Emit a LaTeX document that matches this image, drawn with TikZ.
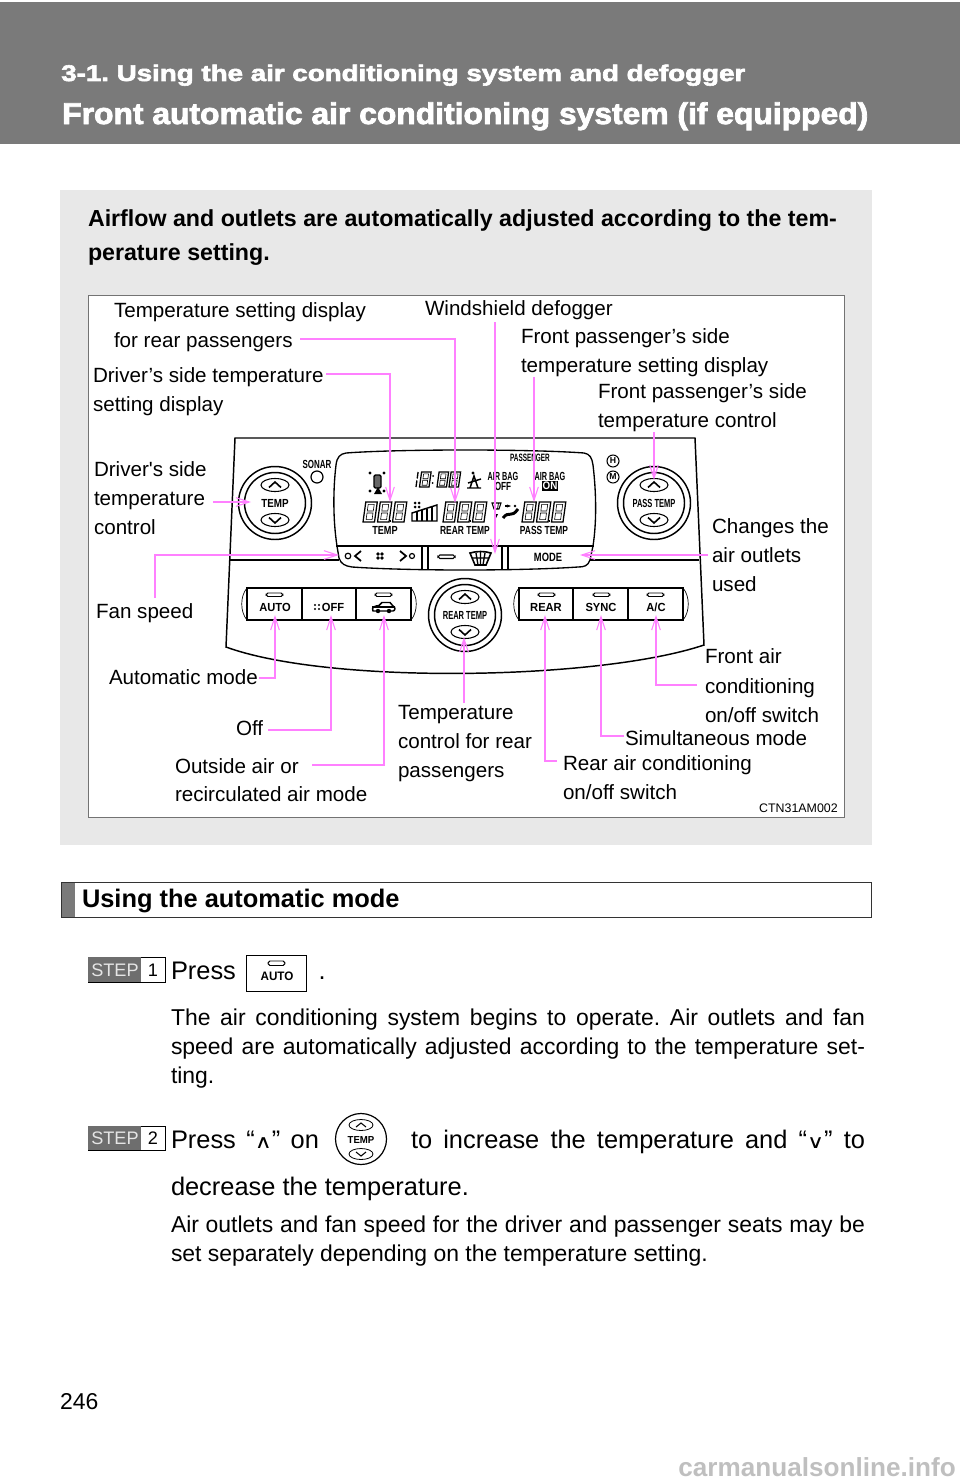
\documentclass[tikz,border=0pt]{standalone}
\usepackage{graphicx}
\usepackage{fontspec}
\setmainfont{Liberation Sans}
\newfontfamily\djv{DejaVu Sans}
\newfontfamily\plainf{Liberation Sans}
\newfontfamily\hvy[FakeBold=2.5]{Liberation Sans Bold}
\usetikzlibrary{arrows.meta}
\definecolor{hdr}{HTML}{7A7A7A}
\definecolor{pnl}{HTML}{E8E8E8}
\definecolor{pk}{HTML}{FF80FF}
\definecolor{stp}{HTML}{6E6E6E}
\newcommand{\fs}[1]{\fontsize{#1}{#1}\selectfont\frenchspacing}
\tikzset{
  lbl/.style={anchor=base west,inner sep=0pt,outer sep=0pt,text=black,font=\fs{15.45}},
  body/.style={anchor=base west,inner sep=0pt,outer sep=0pt,text=black,font=\fs{17.2}},
  body2/.style={anchor=base west,inner sep=0pt,outer sep=0pt,text=black,font=\fs{19.05}},
  nar/.style={inner sep=0pt,outer sep=0pt,font=\fs{8.8}\bfseries,text=black},
  btn/.style={inner sep=0pt,outer sep=0pt,font=\fs{8.8}\bfseries,xscale=.95,text=black},
  conn/.style={draw=pk,line width=.8pt},
  arr/.style={conn,-{Straight Barb[length=10pt,width=6.5pt,line width=.8pt]}},
  ln/.style={draw=black,line width=.9pt},
  pill/.style={draw=black,line width=.7pt,rounded corners=1.4pt,fill=white},
}
% dial: name, cx, cy, label, xscale
\newcommand{\dial}[5]{%
  \draw[ln,line width=1.1pt,fill=white] (#2,#3) circle (36.5);
  \draw[ln,line width=1.1pt] (#2,#3) circle (30.5);
  \draw[ln,line width=.8pt] (#2,#3-18) ellipse [x radius=14,y radius=6.5];
  \draw[ln,line width=.8pt] (#2,#3+17) ellipse [x radius=14,y radius=6.5];
  \draw[ln,line width=1.2pt] (#2-6,#3-15.5) -- (#2,#3-21) -- (#2+6,#3-15.5);
  \draw[ln,line width=1.2pt] (#2-6,#3+14.5) -- (#2,#3+20) -- (#2+6,#3+14.5);
  \node[nar,xscale=#5] (#1) at (#2,#3) {#4};
}
% LCD 8 digit: x, y(bottom), height, width
\newcommand{\lcdd}[4]{%
  \begin{scope}[shift={(#1,#2)},xslant=.14]
    \draw[line width=.95pt] (0,0) rectangle (#4,-#3);
    \draw[line width=.45pt] (.24*#4,-.12*#3) rectangle (.76*#4,-.45*#3);
    \draw[line width=.45pt] (.24*#4,-.55*#3) rectangle (.76*#4,-.88*#3);
  \end{scope}}
\newcommand{\lcdt}[2]{%
  \lcdd{#1}{#2}{20}{11.5}\lcdd{#1+14.5}{#2}{20}{11.5}\fill (#1+26.6,#2) rectangle (#1+28.4,#2-2.5);\lcdd{#1+29.5}{#2}{20}{11.5}}
\newcommand{\fanic}[3]{%
  \fill (#1-2,#2-2) circle (#3) (#1+2,#2-2) circle (#3) (#1-2,#2+2) circle (#3) (#1+2,#2+2) circle (#3);}
\begin{document}
\begin{tikzpicture}[x=.75pt,y=-.75pt]
\useasboundingbox (0,0) rectangle (960,1484);
% header
\fill[hdr] (0,2) rectangle (960,144);
\node[anchor=base west,inner sep=0pt,text=white,font=\hvy\fs{17}] (hdrA) at (61,81) {\resizebox{513pt}{\height}{3-1. Using the air conditioning system and defogger}};
\node[anchor=base west,inner sep=0pt,text=white,font=\hvy\fs{22.5}] (hdrB) at (62,124) {\resizebox{604.5pt}{\height}{Front automatic air conditioning system (if equipped)}};
% grey panel
\fill[pnl] (60,190) rectangle (872,845);
\node[lbl,font=\fs{17.4}\bfseries] (introA) at (88,226) {Airflow and outlets are automatically adjusted according to the tem-};
\node[lbl,font=\fs{17.4}\bfseries] (introB) at (88,260) {perature setting.};
\draw[fill=white,draw=black!55,line width=.6pt] (88,295) rectangle (844.5,817.5);
% control panel
\draw[ln,line width=1.1pt] (235,438) -- (695,438) -- (704,645) .. controls (600,680) and (330,685) .. (226,647) -- cycle;
\draw[ln] (229,560) -- (339,560);
\draw[ln] (590,560) -- (699,560);
\draw[ln,line width=1pt] (346,453) .. controls (400,449) and (530,449) .. (584,453) .. controls (590,454) and (592,458) .. (593,465) .. controls (596,490) and (597,520) .. (593,546) -- (590,560) .. controls (588,566) and (584,567) .. (578,567) .. controls (520,571) and (410,571) .. (352,567) .. controls (345,566) and (341,564) .. (339,558) -- (337,546) .. controls (333,520) and (333,490) .. (336,465) .. controls (337,457) and (340,454) .. (346,453) -- cycle;
\draw[ln] (336,546) -- (594,546);
\draw[ln] (422,546) -- (422,569) (428,546) -- (428,569) (502,546) -- (502,569) (508,546) -- (508,569);
% dials
\dial{dlT}{275}{503}{TEMP}{.84}
\dial{dlP}{654}{503}{PASS TEMP}{.64}
\dial{dlR}{465}{615}{REAR TEMP}{.64}
% sonar, H, M
\node[nar,xscale=.68] (sonar) at (317,464) {SONAR};
\draw[ln] (317,477) circle (6);
\node[draw=black,circle,line width=.8pt,minimum size=9pt,inner sep=0pt,font=\fs{6.5}\bfseries] (hh) at (613,461) {H};
\node[draw=black,circle,line width=.8pt,minimum size=9pt,inner sep=0pt,font=\fs{6.5}\bfseries] (mm) at (613,477) {M};
% LCD content
\fill (370,473) circle (1.7) (384,473) circle (1.7) (370,491) circle (1.7) (384,491) circle (1.7);
\draw[ln,line width=1.1pt,fill=black!60,rounded corners=1pt] (374,475) rectangle (381,488);
\fill (374,494) -- (378,487) -- (382,494) -- cycle;
\begin{scope}[shift={(415,487)},xslant=.14]
  \draw[line width=1pt] (1,0) -- (1,-6.5) (1,-8.5) -- (1,-15);
\end{scope}
\lcdd{419.5}{487}{15}{9.5}\fill (433,476) circle (1) (432.5,483) circle (1);
\lcdd{437}{487}{15}{9.5}\lcdd{449}{487}{15}{9.5}
% seatbelt icon
\draw[ln,line width=1.1pt] (467,488) -- (481,488) (470,488) -- (474,476) -- (478,488) (468,483) -- (481,479);
\fill (473,473) circle (1.7);
\node[nar,xscale=.62] (abA) at (503,476) {AIR BAG};
\node[nar,xscale=.7] (abB) at (503,486) {OFF};
\node[nar,xscale=.62] (abC) at (550,476) {AIR BAG};
\node[fill=black,inner sep=.8pt,font=\fs{8.2}\bfseries,text=white,xscale=.9] (abD) at (550,486) {ON};
\node[nar,font=\fs{8}\bfseries,xscale=.6] (pasg) at (530,458) {PASSENGER};
\lcdt{363}{522}
\lcdt{443}{522}
\lcdt{522}{522}
\node[nar,xscale=.78] (tA) at (385,530) {TEMP};
\node[nar,xscale=.72] (tB) at (465,530) {REAR TEMP};
\node[nar,xscale=.72] (tC) at (544,530) {PASS TEMP};
% fan bar
\fanic{417}{505}{1.5}
\draw[ln,line width=1.1pt] (412,521) -- (412,513) -- (437,505) -- (437,521) -- cycle;
\draw[ln,line width=1.1pt] (417,521) -- (417,512) (422,521) -- (422,510) (427,521) -- (427,509) (432,521) -- (432,507);
% air icon
\draw[line width=2.2pt] (503,518) .. controls (509,510) and (511,519) .. (518,509);
\draw[line width=1.3pt,-{Stealth[length=3pt]}] (505,506) -- (511,506);
\fill (515,506) circle (1.4);
\draw[line width=.8pt,fill=white] (492,503) -- (501,503) -- (499,509) -- (494,509) -- cycle;
\draw[line width=.6pt] (494.5,503) -- (495.5,509) (498.5,503) -- (497.5,509);
\fill (494,514) -- (496,518) -- (498,514) -- cycle;
% bottom row of LCD
\draw[ln] (348,556) circle (2.8);
\draw[ln,line width=1.3pt] (361,551) -- (355,556) -- (361,561);
\fanic{380}{556}{1.8}
\draw[ln,line width=1.3pt] (400,551) -- (406,556) -- (400,561);
\draw[ln] (412,556) circle (2.5);
\draw[pill,line width=.9pt] (438,555) rectangle (455,558.5);
\draw[ln,line width=1.2pt] (470,553) .. controls (477,551) and (484,551) .. (491,553) -- (486,565) -- (475,565) -- cycle;
\draw[ln,line width=1pt] (476,553) -- (478,565) (480.5,552) -- (480.5,565) (485,553) -- (483,565) (472,558) -- (489,558);
\node[nar,font=\fs{9}\bfseries,xscale=.78] (mode) at (548,557) {MODE};
% buttons
\draw[ln] (247,588) -- (411,588) -- (411,620) -- (247,620) -- cycle;
\draw[ln] (302,588) -- (302,620) (356,588) -- (356,620);
\draw[ln,line width=.5pt] (247,588) .. controls (240,596) and (240,612) .. (247,620);
\draw[ln,line width=.5pt] (411,588) .. controls (418,596) and (418,612) .. (411,620);
\draw[ln] (519,588) -- (683,588) -- (683,620) -- (519,620) -- cycle;
\draw[ln] (573,588) -- (573,620) (628,588) -- (628,620);
\draw[ln,line width=.5pt] (519,588) .. controls (512,596) and (512,612) .. (519,620);
\draw[ln,line width=.5pt] (683,588) .. controls (690,596) and (690,612) .. (683,620);
\draw[pill] (266,593) rectangle (283,596.5);
\draw[pill] (375,593) rectangle (392,596.5);
\draw[pill] (538,593) rectangle (555,596.5);
\draw[pill] (593,593) rectangle (610,596.5);
\draw[pill] (647,593) rectangle (664,596.5);
\node[btn] (bA) at (275,607) {AUTO};
\fanic{317}{607}{1.2}
\node[btn] (bB) at (333,607) {OFF};
\draw[line width=1.1pt,fill=white] (373,611) .. controls (371,607) and (375,606) .. (379,605.5) -- (382,602.5) -- (390,602.5) -- (393,606) .. controls (396,607) and (395,611) .. (393,611) -- cycle;
\fill (378,611) circle (2.2) (389,611) circle (2.2);
\draw[line width=.9pt] (372,607) -- (395,607);
\node[btn] (bC) at (546,607) {REAR};
\node[btn] (bD) at (601,607) {SYNC};
\node[btn] (bE) at (656,607) {A/C};
% labels
\node[lbl] (lA) at (114,317) {Temperature setting display};
\node[lbl] (lB) at (114,347) {for rear passengers};
\node[lbl] (lC) at (425,315) {Windshield defogger};
\node[lbl] (lD) at (521,343) {Front passenger’s side};
\node[lbl] (lE) at (521,372) {temperature setting display};
\node[lbl] (lF) at (598,398) {Front passenger’s side};
\node[lbl] (lG) at (598,427) {temperature control};
\node[lbl] (lH) at (93,382) {Driver’s side temperature};
\node[lbl] (lI) at (93,411) {setting display};
\node[lbl] (lJ) at (94,476) {\plainf Driver's side};
\node[lbl] (lK) at (94,505) {temperature};
\node[lbl] (lL) at (94,534) {control};
\node[lbl] (lM) at (712,533) {Changes the};
\node[lbl] (lN) at (712,562) {air outlets};
\node[lbl] (lO) at (712,591) {used};
\node[lbl] (lP) at (96,618) {Fan speed};
\node[lbl] (lQ) at (109,684) {Automatic mode};
\node[lbl] (lR) at (236,735) {Off};
\node[lbl] (lS) at (175,773) {Outside air or};
\node[lbl] (lT) at (175,801) {recirculated air mode};
\node[lbl] (lU) at (398,719) {Temperature};
\node[lbl] (lV) at (398,748) {control for rear};
\node[lbl] (lW) at (398,777) {passengers};
\node[lbl] (lX) at (705,663) {Front air};
\node[lbl] (lY) at (705,693) {conditioning};
\node[lbl] (lZ) at (705,722) {on/off switch};
\node[lbl] (lAa) at (625,745) {Simultaneous mode};
\node[lbl] (lAb) at (563,770) {Rear air conditioning};
\node[lbl] (lAc) at (563,799) {on/off switch};
\node[anchor=base east,inner sep=0pt,font=\fs{9.3}] (code) at (838,812) {CTN31AM002};
% connector ends
\coordinate (s1) at (300,339); \coordinate (e1) at (455,503);
\coordinate (s2) at (495,322); \coordinate (e2) at (495,554);
\coordinate (s3) at (534,377); \coordinate (e3) at (534,502);
\coordinate (s4) at (654,432); \coordinate (e4) at (654,480);
\coordinate (s5) at (326,374); \coordinate (e5) at (390,502);
\coordinate (s6) at (213,502); \coordinate (e6) at (251,502);
\coordinate (s7) at (155,598); \coordinate (e7) at (339,555);
\coordinate (s8) at (708,555); \coordinate (e8) at (580,555);
\coordinate (s9) at (259,678); \coordinate (e9) at (275,615);
\coordinate (s10) at (268,730); \coordinate (e10) at (331,615);
\coordinate (s11) at (312,765); \coordinate (e11) at (384,615);
\coordinate (s12) at (464,703); \coordinate (e12) at (464,637);
\coordinate (s13) at (557,761); \coordinate (e13) at (545,615);
\coordinate (s14) at (624,736); \coordinate (e14) at (601,615);
\coordinate (s15) at (697,685); \coordinate (e15) at (656,615);
\draw[arr] (s1) -| (e1);
\draw[arr] (s2) -- (e2);
\draw[arr] (s3) -- (e3);
\draw[arr] (s4) -- (e4);
\draw[arr] (s5) -| (e5);
\draw[arr] (s6) -- (e6);
\draw[arr] (s7) |- (e7);
\draw[arr] (s8) -- (e8);
\draw[arr] (s9) -| (e9);
\draw[arr] (s10) -| (e10);
\draw[arr] (s11) -| (e11);
\draw[arr] (s12) -- (e12);
\draw[arr] (s13) -| (e13);
\draw[arr] (s14) -| (e14);
\draw[arr] (s15) -| (e15);
% section
\draw[line width=.7pt,draw=black!80,fill=white] (61,882) rectangle (871,917);
\fill[hdr] (61.5,882.5) rectangle (75,916.5);
\node[lbl,font=\fs{19.05}\bfseries] (sec) at (82,907) {Using the automatic mode};
% steps
\draw[line width=.6pt,fill=white] (88,957) rectangle (165,982);
\fill[stp] (88.4,957.4) rectangle (141,981.6);
\node[anchor=base west,inner sep=0pt,font=\fs{13.6},text=black!10] (stA) at (91,976) {STEP};
\node[anchor=base,inner sep=0pt,font=\fs{13.6}] (stB) at (153,976) {1};
\draw[line width=.6pt,fill=white] (88,1126) rectangle (165,1150);
\fill[stp] (88.4,1126.4) rectangle (141,1149.6);
\node[anchor=base west,inner sep=0pt,font=\fs{13.6},text=black!10] (stC) at (91,1144) {STEP};
\node[anchor=base,inner sep=0pt,font=\fs{13.6}] (stD) at (153,1144) {2};
% step 1
\node[body2] (pr1) at (171,979) {Press};
\draw[line width=.7pt] (246,955) rectangle (306,991);
\draw[pill] (268,961) rectangle (285,965.5);
\node[btn,font=\fs{9.2}\bfseries] (autoB) at (277,976) {AUTO};
\node[body2] (dot) at (318.5,979) {.};
\node[body] (pA) at (171,1025) {\makebox[520.5pt][s]{The air conditioning system begins to operate. Air outlets and fan}};
\node[body] (pB) at (171,1054) {\makebox[520.5pt][s]{speed are automatically adjusted according to the temperature set-}};
\node[body] (pC) at (171,1083) {ting.};
% step 2
\node[body2] (pr2) at (171,1148) {\makebox[111pt][s]{Press “\scalebox{1.25}[1]{\djv\fs{14}∧}” on}};
\draw[line width=.9pt] (361,1139) circle (25.5);
\draw[line width=.6pt] (361,1125) ellipse [x radius=12,y radius=5.5];
\draw[line width=.6pt] (361,1154) ellipse [x radius=12,y radius=5.5];
\draw[line width=.8pt] (356,1127) -- (361,1123) -- (366,1127);
\draw[line width=.8pt] (356,1152) -- (361,1156) -- (366,1152);
\node[btn,font=\fs{7.6}\bfseries] (t2) at (361,1139.5) {TEMP};
\node[body2] (pr3) at (411,1148) {\makebox[340.5pt][s]{to increase the temperature and “\scalebox{1.25}[1]{\djv\fs{14}∨}” to}};
\node[body2] (pr4) at (171,1195) {decrease the temperature.};
\node[body] (pD) at (171,1232) {\makebox[520.5pt][s]{Air outlets and fan speed for the driver and passenger seats may be}};
\node[body] (pE) at (171,1261) {set separately depending on the temperature setting.};
\node[body] (pg) at (60,1409) {246};
\node[anchor=base east,inner sep=0pt,font=\fs{19.6}\bfseries,text=black!25] (wm) at (956,1476) {carmanualsonline.info};
\end{tikzpicture}
\end{document}
